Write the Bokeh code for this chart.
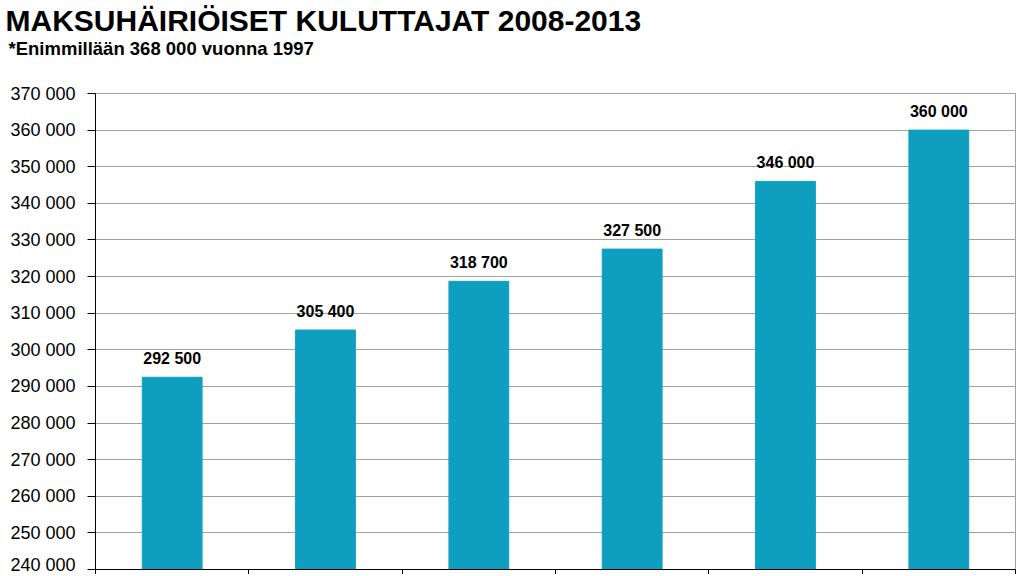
from bokeh.plotting import figure
from bokeh.models import Range1d, FixedTicker, Title
from bokeh.embed import file_html
from bokeh.resources import INLINE
from bokeh.core.properties import value

# ---- data ----
years = ["2008", "2009", "2010", "2011", "2012", "2013"]
consumers = [292500, 305400, 318700, 327500, 346000, 360000]
value_labels = ["292 500", "305 400", "318 700", "327 500", "346 000", "360 000"]
y_ticks = [240000, 250000, 260000, 270000, 280000, 290000, 300000, 310000,
           320000, 330000, 340000, 350000, 360000, 370000]
y_tick_labels = ["240 000", "250 000", "260 000", "270 000", "280 000", "290 000",
                 "300 000", "310 000", "320 000", "330 000", "340 000", "350 000",
                 "360 000", "370 000"]
title_text = "MAKSUHÄIRIÖISET KULUTTAJAT 2008-2013"
subtitle_text = "*Enimmillään 368 000 vuonna 1997"

BAR = "#0E9FC0"
GRID = "#a0a0a0"
SANS = "Liberation Sans, Arial, sans-serif"
NARROW = "Liberation Sans Narrow, Arial Narrow, Liberation Sans, sans-serif"

xs = [i + 0.5 for i in range(len(years))]

p = figure(width=1018, height=574, output_backend="svg", toolbar_location=None,
           x_range=Range1d(0, len(years)), y_range=Range1d(y_ticks[0], y_ticks[-1]),
           min_border_left=95, min_border_right=3, min_border_top=93,
           min_border_bottom=4, title=None)
p.background_fill_color = "white"
p.border_fill_color = "white"
p.outline_line_color = GRID
p.outline_line_width = 1

p.vbar(x=xs, top=consumers, bottom=y_ticks[0], width=0.39,
       fill_color=BAR, line_color=BAR)

p.text(x=xs, y=consumers, text=value_labels, text_align="center",
       text_baseline="bottom", y_offset=-10,
       text_font=value(SANS), text_font_style="bold",
       text_font_size="16px", text_color="black")

# y axis
ya = p.yaxis[0]
ya.ticker = FixedTicker(ticks=y_ticks)
ya.major_label_overrides = {t: l for t, l in zip(y_ticks, y_tick_labels)}
ya.axis_line_color = "black"
ya.axis_line_width = 1
ya.major_tick_line_color = "black"
ya.major_tick_out = 8
ya.major_tick_in = 0
ya.minor_tick_line_color = None
ya.major_label_standoff = 12
ya.major_label_text_font = SANS
ya.major_label_text_font_size = "18px"
ya.major_label_text_color = "black"

# x axis (category labels fall below the visible area)
xa = p.xaxis[0]
x_bounds = list(range(len(years) + 1))
xa.ticker = FixedTicker(ticks=x_bounds)
xa.major_label_overrides = {t: "" for t in x_bounds}
xa.axis_line_color = "black"
xa.major_tick_line_color = "black"
xa.major_tick_out = 5
xa.major_tick_in = 0
xa.minor_tick_line_color = None
xa.major_label_text_font_size = "1px"
xa.major_label_standoff = 0

p.xgrid.grid_line_color = None
p.ygrid.grid_line_color = GRID
p.ygrid.grid_line_width = 1
p.ygrid.ticker = FixedTicker(ticks=y_ticks)

# titles (added bottom-up: subtitle closest to the plot)
p.add_layout(Title(text=subtitle_text, align="left", offset=-87, standoff=70,
                   text_font=NARROW, text_font_style="bold",
                   text_font_size="18.5px", text_color="black"), "above")
p.add_layout(Title(text=title_text, align="left", offset=-90, standoff=-72,
                   text_font=NARROW, text_font_style="bold",
                   text_font_size="30px", text_color="black"), "above")

open("out.html", "w").write(file_html(p, INLINE))
